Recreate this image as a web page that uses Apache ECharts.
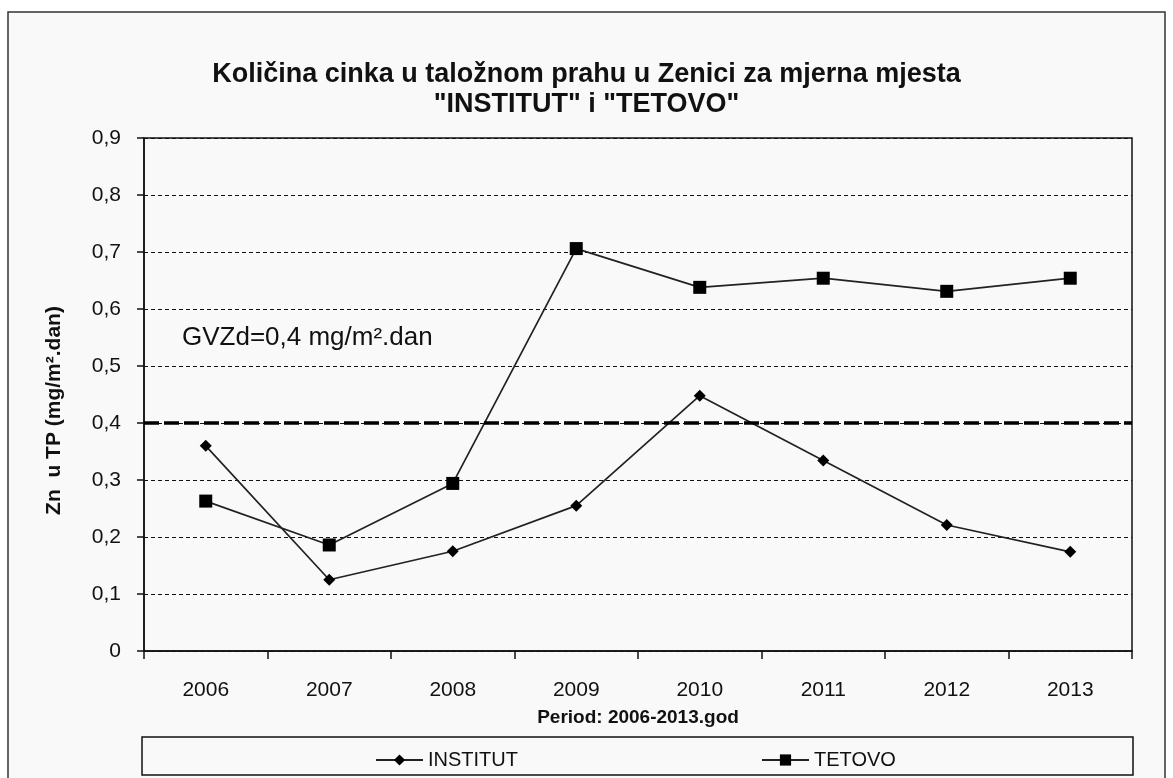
<!DOCTYPE html>
<html lang="bs">
<head>
  <meta charset="UTF-8">
  <title>Zn u taložnom prahu</title>
  <script src="https://cdn.jsdelivr.net/npm/echarts@6/dist/echarts.min.js"></script>
  <style>
    html, body { margin: 0; padding: 0; background: #ffffff; }
    #main { width: 1173px; height: 778px; }
  </style>
</head>
<body>
  <div id="main"></div>
  <script type="text/javascript">
    // podaci ocitani sa grafika
    const years = ['2006', '2007', '2008', '2009', '2010', '2011', '2012', '2013']
    const institut = [0.36, 0.125, 0.175, 0.255, 0.448, 0.334, 0.221, 0.174]
    const tetovo = [0.263, 0.186, 0.294, 0.706, 0.638, 0.654, 0.631, 0.654]
    const gvzd = 0.4

    const font = "'Liberation Sans', Arial, sans-serif"
    const ink = '#111'

    const myChart = echarts.init(document.getElementById('main'))

    const option = {
      backgroundColor: '#ffffff',
      textStyle: { fontFamily: font, color: ink },
      title: {
        text: 'Količina cinka u taložnom prahu u Zenici za mjerna mjesta\n"INSTITUT" i "TETOVO"',
        left: 'center',
        top: 55,
        textStyle: { fontFamily: font, fontSize: 27, fontWeight: 'bold', color: ink, lineHeight: 30 }
      },
      graphic: [
        // okvir grafika
        { type: 'rect', z: -10, shape: { x: 8, y: 12, width: 1157, height: 790 },
          style: { fill: '#f9f9f9', stroke: '#333', lineWidth: 1.5 } },
        // okvir legende
        { type: 'rect', z: -5, shape: { x: 142, y: 737, width: 991, height: 38 },
          style: { fill: '#f9f9f9', stroke: '#111', lineWidth: 1.5 } },
        { type: 'text', x: 182, y: 338,
          style: { text: 'GVZd=0,4 mg/m².dan', font: '26px ' + font, fill: ink, verticalAlign: 'middle' } }
      ],
      legend: {
        data: ['INSTITUT', 'TETOVO'],
        left: 370,
        top: 745,
        itemGap: 243,
        itemWidth: 47,
        itemHeight: 14,
        lineStyle: { width: 2 },
        textStyle: { fontFamily: font, fontSize: 20, color: ink }
      },
      grid: {
        left: 144, right: 41, top: 138, bottom: 127,
        show: true, borderColor: '#111', borderWidth: 1.5, backgroundColor: 'transparent'
      },
      xAxis: {
        type: 'category',
        data: years,
        boundaryGap: true,
        axisLine: { lineStyle: { color: '#111', width: 1.5 } },
        axisTick: { show: true, interval: 0, length: 8, lineStyle: { color: '#111', width: 1.5 } },
        axisLabel: { fontSize: 21, color: ink, margin: 29, fontFamily: font },
        name: 'Period: 2006-2013.god',
        nameLocation: 'middle',
        nameGap: 57,
        nameTextStyle: { fontSize: 19, fontWeight: 'bold', color: ink, fontFamily: font }
      },
      yAxis: {
        type: 'value',
        min: 0,
        max: 0.9,
        interval: 0.1,
        axisLine: { show: true, lineStyle: { color: '#111', width: 1.5 } },
        axisTick: { show: true, length: 7, lineStyle: { color: '#111', width: 1.5 } },
        axisLabel: {
          fontSize: 21, color: ink, margin: 23, fontFamily: font,
          formatter: v => (Math.round(v * 10) / 10).toString().replace('.', ',')
        },
        splitLine: { show: true, lineStyle: { color: '#111', width: 1.2, type: [4, 3] } },
        name: 'Zn  u TP (mg/m².dan)',
        nameLocation: 'middle',
        nameRotate: 90,
        nameGap: 79,
        nameTextStyle: {
          fontSize: 21, fontWeight: 'bold', color: ink, fontFamily: font,
          padding: [0, 32, 0, 0]
        }
      },
      series: [
        {
          name: 'INSTITUT',
          type: 'line',
          data: institut,
          symbol: 'diamond',
          symbolSize: 12,
          itemStyle: { color: '#000' },
          lineStyle: { color: '#222', width: 1.7 },
          markLine: {
            silent: true,
            symbol: 'none',
            label: { show: false },
            lineStyle: { color: '#000', width: 3.5, type: [15, 5] },
            data: [{ yAxis: gvzd }]
          }
        },
        {
          name: 'TETOVO',
          type: 'line',
          data: tetovo,
          symbol: 'rect',
          symbolSize: 13,
          itemStyle: { color: '#000' },
          lineStyle: { color: '#222', width: 1.7 }
        }
      ]
    }

    myChart.setOption(option)
  </script>
</body>
</html>
